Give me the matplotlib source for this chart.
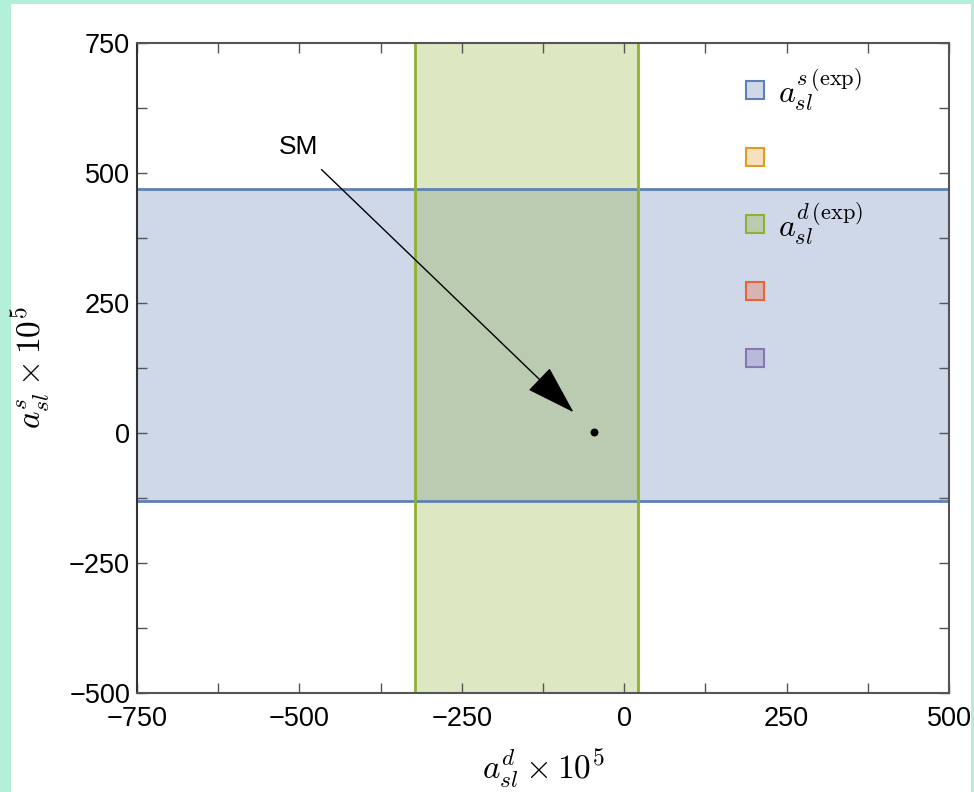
import matplotlib
matplotlib.use("Agg")
import matplotlib.pyplot as plt
from matplotlib.patches import Rectangle
import numpy as np

plt.rcParams['font.family'] = ['Liberation Sans', 'DejaVu Sans']
plt.rcParams['mathtext.fontset'] = 'cm'

# Data (in units of 1e-5)
x_lim = [-750, 500]
y_lim = [-500, 750]
asl_s_band = [-130, 470]      # a_sl^s (exp) range
asl_d_band = [-322, 21]       # a_sl^d (exp) range
sm_point = [-47, 2]           # SM prediction
sm_label_pos = [-502, 550]
sm_arrow_tip = [-78, 40]
tick_step = 125
label_step = 250

series_names = [r"$a_{sl}^{s\,(\mathrm{exp})}$", "", r"$a_{sl}^{d\,(\mathrm{exp})}$", "", ""]
series_colors = ["#5E81B5", "#E19C24", "#8FB032", "#EB6235", "#8778B3"]

fig = plt.figure(figsize=(9.74, 7.92), dpi=100)
fig.patch.set_facecolor("#b3f0da")
fig.patches.append(Rectangle((11/974, 0), 960/974, 1 - 4/792, transform=fig.transFigure,
                             facecolor="white", edgecolor="none", zorder=-10))

ax = fig.add_axes([137/974, 1 - 693/792, 812/974, 650/792])
ax.set_zorder(5)
ax.set_facecolor("none")
ax.set_xlim(x_lim)
ax.set_ylim(y_lim)

blue, green = series_colors[0], series_colors[2]
# horizontal band (a_sl^s)
ax.axhspan(asl_s_band[0], asl_s_band[1], facecolor=blue, alpha=0.3, edgecolor="none", zorder=1)
ax.axhline(asl_s_band[0], color=blue, lw=2, zorder=2)
ax.axhline(asl_s_band[1], color=blue, lw=2, zorder=2)
# vertical band (a_sl^d)
ax.axvspan(asl_d_band[0], asl_d_band[1], facecolor=green, alpha=0.3, edgecolor="none", zorder=1)
ax.axvline(asl_d_band[0], color=green, lw=2, zorder=2)
ax.axvline(asl_d_band[1], color=green, lw=2, zorder=2)

# SM point and arrow
ax.scatter([sm_point[0]], [sm_point[1]], s=22, color="black", zorder=5)
ax.annotate("SM", xy=sm_arrow_tip, xytext=sm_label_pos, fontsize=19, ha="center", va="center",
            arrowprops=dict(arrowstyle="-|>,head_length=1.6,head_width=0.5", color="black",
                            lw=1, mutation_scale=20, shrinkA=8, shrinkB=0), zorder=6)

# ticks
xt = np.arange(x_lim[0], x_lim[1] + 1, tick_step)
yt = np.arange(y_lim[0], y_lim[1] + 1, tick_step)
ax.set_xticks(xt)
ax.set_yticks(yt)
fmt = lambda v: (str(int(v)).replace("-", "\u2212") if v % label_step == 0 else "")
ax.set_xticklabels([fmt(v) for v in xt])
ax.set_yticklabels([fmt(v) for v in yt])
ax.tick_params(direction="in", length=7, width=1, color="#555555", labelsize=19.5,
               top=True, right=True, pad=9)
ax.tick_params(axis="y", pad=5)
for s in ax.spines.values():
    s.set_color("#555555")
    s.set_linewidth(1.5)
ax.spines["left"].set_color("#333333")

ax.set_xlabel(r"$a_{sl}^{d}\times 10^5$", fontsize=24, labelpad=12)
ax.set_ylabel(r"$a_{sl}^{s}\times 10^5$", fontsize=24, labelpad=12)

# legend (manual)
lx, ly0, dy = 0.750, 1 - 0.0723, 0.1031
w, h = 18/812, 18/650
for i, (name, c) in enumerate(zip(series_names, series_colors)):
    yc = ly0 - i * dy
    ax.add_patch(Rectangle((lx, yc - h/2), w, h, transform=ax.transAxes, facecolor=c,
                           alpha=0.3, edgecolor="none", zorder=7))
    ax.add_patch(Rectangle((lx, yc - h/2), w, h, transform=ax.transAxes, facecolor="none",
                           edgecolor=c, lw=1.5, zorder=8))
    if name:
        ax.text(lx + 0.040, yc, name, transform=ax.transAxes, fontsize=23, va="center", ha="left")

fig.savefig("out.png", dpi=100, facecolor=fig.get_facecolor())
